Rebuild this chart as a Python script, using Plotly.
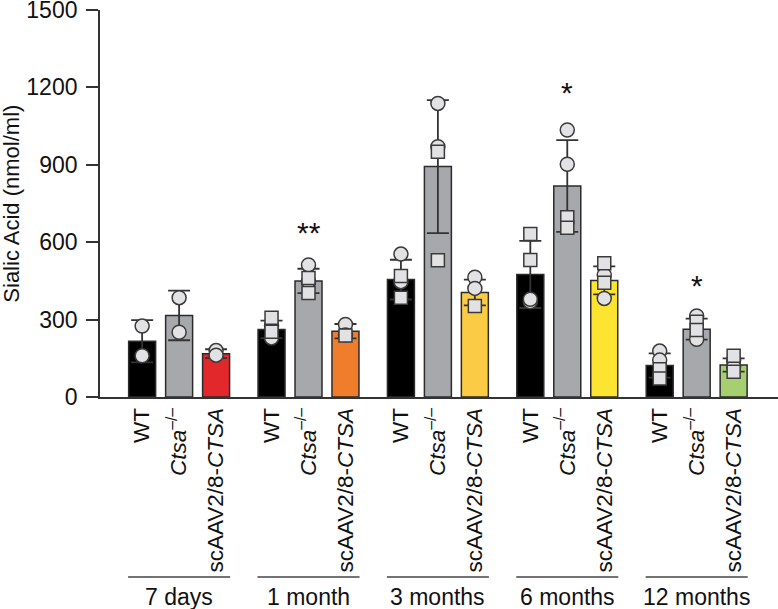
import plotly.graph_objects as go

# ---------------- data ----------------
groups = ["7 days", "1 month", "3 months", "6 months", "12 months"]
genotypes = ["WT", "<i>Ctsa</i><sup>–/–</sup>", "scAAV2/8-<i>CTSA</i>"]

wt_mean = [216, 262, 455, 475, 122]
ko_mean = [316, 450, 893, 818, 263]
aav_mean = [168, 255, 405, 452, 124]

wt_sd = [82, 34, 77, 130, 47]
ko_sd = [96, 47, 258, 178, 41]
aav_sd = [17, 28, 50, 54, 26]

wt_circles = [[275, 160], [276, 229], [554, 447], [369, 379], [178, 143]]
wt_squares = [[], [307, 253], [469, 385], [632, 531], [108, 72]]
ko_circles = [[385, 251], [512, 447], [1138, 970], [1035, 902], [314, 224]]
ko_squares = [[], [461, 403], [951, 530], [697, 656], [292, 260]]
aav_circles = [[180, 162], [281, 240], [464, 421], [473, 382], [143, 118]]
aav_squares = [[], [238], [353], [518, 443], [160, 98]]

sig_group = ["1 month", "6 months", "12 months"]
sig_text = ["**", "*", "*"]
sig_y = [650, 1190, 445]

y_ticks = [0, 300, 600, 900, 1200, 1500]

# ---------------- styling ----------------
FONT = "Arial, Liberation Sans, sans-serif"
GROUP_STEP = 3.5
BAR_W = 0.73
aav_colors = ["#e3282b", "#f07d2c", "#fbcb45", "#fde430", "#a6d06f"]
wt_color = "#000000"
ko_color = "#a7a8ab"
edge = "#2b2b2b"
err_style = dict(type="data", thickness=1.8, width=11, color="#333333")


def gx(g, i):
    return g * GROUP_STEP + i


fig = go.Figure()

means = [wt_mean, ko_mean, aav_mean]
sds = [wt_sd, ko_sd, aav_sd]
colors = [[wt_color] * 5, [ko_color] * 5, aav_colors]
for i in range(3):
    fig.add_trace(go.Bar(
        x=[gx(g, i) for g in range(len(groups))],
        y=means[i],
        width=BAR_W,
        marker=dict(color=colors[i], line=dict(color=edge, width=1.5)),
        error_y=dict(array=sds[i], **err_style),
        showlegend=False,
    ))

circles = [wt_circles, ko_circles, aav_circles]
squares = [wt_squares, ko_squares, aav_squares]
cx, cy, sx, sy = [], [], [], []
for i in range(3):
    for g in range(len(groups)):
        for v in circles[i][g]:
            cx.append(gx(g, i)); cy.append(v)
        for v in squares[i][g]:
            sx.append(gx(g, i)); sy.append(v)

pt_marker = dict(color="#e2e2e4", line=dict(color="#3a3a3a", width=1.5))
fig.add_trace(go.Scatter(x=cx, y=cy, mode="markers",
                         marker=dict(symbol="circle", size=14, **pt_marker),
                         showlegend=False))
fig.add_trace(go.Scatter(x=sx, y=sy, mode="markers",
                         marker=dict(symbol="square", size=13, **pt_marker),
                         showlegend=False))

# significance stars
for name, txt, yv in zip(sig_group, sig_text, sig_y):
    g = groups.index(name)
    fig.add_annotation(x=gx(g, 1), y=yv, text=txt, showarrow=False,
                       font=dict(size=30, color="#111111", family=FONT),
                       yanchor="middle", yshift=-3)

# group underline + labels
for g, name in enumerate(groups):
    fig.add_shape(type="line", xref="x", yref="paper",
                  x0=gx(g, 0) - 0.38, x1=gx(g, 2) + 0.38, y0=-0.465, y1=-0.465,
                  line=dict(color="#444444", width=1.5))
    fig.add_annotation(x=gx(g, 1), y=-0.517, xref="x", yref="paper",
                       text=name, showarrow=False, yanchor="middle",
                       font=dict(size=23, color="#111111", family=FONT))

# y title
fig.add_annotation(x=-0.131, y=0.5, xref="paper", yref="paper",
                   text="Sialic Acid (nmol/ml)", textangle=-90, showarrow=False,
                   xanchor="center", yanchor="middle",
                   font=dict(size=22, color="#111111", family=FONT))

tickvals = [gx(g, i) for g in range(len(groups)) for i in range(3)]
ticktext = [genotypes[i] for g in range(len(groups)) for i in range(3)]

fig.update_layout(
    width=778, height=609,
    margin=dict(l=100, r=0, t=10, b=212),
    paper_bgcolor="white", plot_bgcolor="white",
    font=dict(family=FONT, size=22, color="#111111"),
    barmode="overlay",
    xaxis=dict(range=[-1.14, 17.2], tickvals=tickvals, ticktext=ticktext,
               tickangle=-90, ticks="", showline=True, linecolor="#333333",
               linewidth=1.8, showgrid=False, zeroline=False, automargin=False,
               tickfont=dict(size=22.5), ticklabeloverflow="allow"),
    yaxis=dict(range=[0, 1500], tickvals=y_ticks, ticks="outside", ticklen=12,
               tickwidth=1.5, tickcolor="#333333", showline=True,
               linecolor="#333333", linewidth=1.8, showgrid=False,
               zeroline=False, automargin=False, tickfont=dict(size=23),
               ticklabelstandoff=4, ticklabeloverflow="allow"),
)

fig.write_html("out.html", config={"displayModeBar": False},
               post_script="document.body.style.margin='0';document.body.style.overflow='hidden';")
